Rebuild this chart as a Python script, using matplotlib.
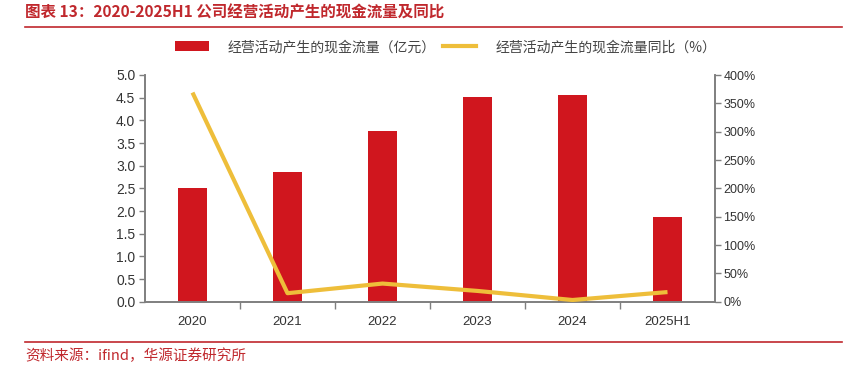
import matplotlib
matplotlib.use("Agg")
import matplotlib.pyplot as plt
from matplotlib.lines import Line2D
from matplotlib.patches import Patch
from matplotlib.ticker import MultipleLocator, FuncFormatter, FixedLocator

plt.rcParams['font.family'] = ['Liberation Sans', 'Noto Sans CJK SC', 'DejaVu Sans']

categories = ["2020", "2021", "2022", "2023", "2024", "2025H1"]
cash_flow = [2.50, 2.87, 3.77, 4.51, 4.56, 1.86]          # 亿元
yoy_pct = [369, 15, 32, 19, 3, 17]                       # %

title = "图表 13：2020-2025H1 公司经营活动产生的现金流量及同比"
legend_bar = "经营活动产生的现金流量（亿元）"
legend_line = "经营活动产生的现金流量同比（%）"
source = "资料来源：ifind，华源证券研究所"

RED = "#D0161E"
GOLD = "#EEBE3A"
TXT_RED = "#C0282D"
GRAY = "#7f7f7f"

fig = plt.figure(figsize=(8.57, 3.67), dpi=100)
ax = fig.add_axes([145/857, 1-301.7/367, (715-145)/857, (301.7-75)/367])
ax2 = ax.twinx()

x = list(range(len(categories)))
ax.bar(x, cash_flow, width=0.31, color=RED, zorder=2)
ax2.plot(x, yoy_pct, color=GOLD, lw=3, zorder=3, solid_capstyle='butt')

ax.set_xlim(-0.5, len(categories) - 0.5)
ax.set_ylim(0, 5.0)
ax2.set_ylim(0, 400)
ax.yaxis.set_major_locator(MultipleLocator(0.5))
ax.yaxis.set_major_formatter(FuncFormatter(lambda v, p: f"{v:.1f}"))
ax2.yaxis.set_major_locator(MultipleLocator(50))
ax2.yaxis.set_major_formatter(FuncFormatter(lambda v, p: f"{int(round(v))}%"))

ax.set_xticks(x)
ax.set_xticklabels(categories)
ax.xaxis.set_minor_locator(FixedLocator([i + 0.5 for i in range(len(categories) - 1)]))
ax.tick_params(axis='x', which='major', length=0, pad=10, labelsize=9.5, labelcolor='#333333')
ax.tick_params(axis='x', which='minor', length=5, width=1, color=GRAY, direction='out')
ax.tick_params(axis='y', length=4, width=1, color=GRAY, labelsize=10, labelcolor='#333333', pad=3)
ax2.tick_params(axis='y', length=4, width=1, color=GRAY, labelsize=9, labelcolor='#333333', pad=2)

for a in (ax, ax2):
    a.spines['top'].set_visible(False)
    for s in ('left', 'right', 'bottom'):
        a.spines[s].set_color(GRAY)
        a.spines[s].set_linewidth(1.2)

handles = [Patch(facecolor=RED, edgecolor='none'),
           Line2D([0], [0], color=GOLD, lw=3)]
leg = fig.legend(handles, [legend_bar, legend_line], loc='center', bbox_to_anchor=(446/857, 1-47/367),
                 ncol=2, frameon=False, handlelength=2.4, handleheight=0.8,
                 columnspacing=0.5, handletextpad=1.4,
                 prop={'family': ['Noto Sans CJK SC'], 'size': 10})
for t in leg.get_texts():
    t.set_color('#444444')

fig.text(25/857, 1-12/367, title, fontsize=11.2, fontweight='bold', color=TXT_RED,
         va='center', ha='left', family=['Noto Sans CJK SC', 'DejaVu Sans'])
fig.add_artist(Line2D([25/857, 842/857], [1-27/367, 1-27/367], color=TXT_RED, lw=1.2))
fig.add_artist(Line2D([25/857, 842/857], [1-342/367, 1-342/367], color=TXT_RED, lw=1.2))
fig.text(25/857, 1-356/367, source, fontsize=10.5, color=TXT_RED, va='center', ha='left',
         family=['Noto Sans CJK SC', 'DejaVu Sans'])

fig.savefig("out.png", dpi=100)
